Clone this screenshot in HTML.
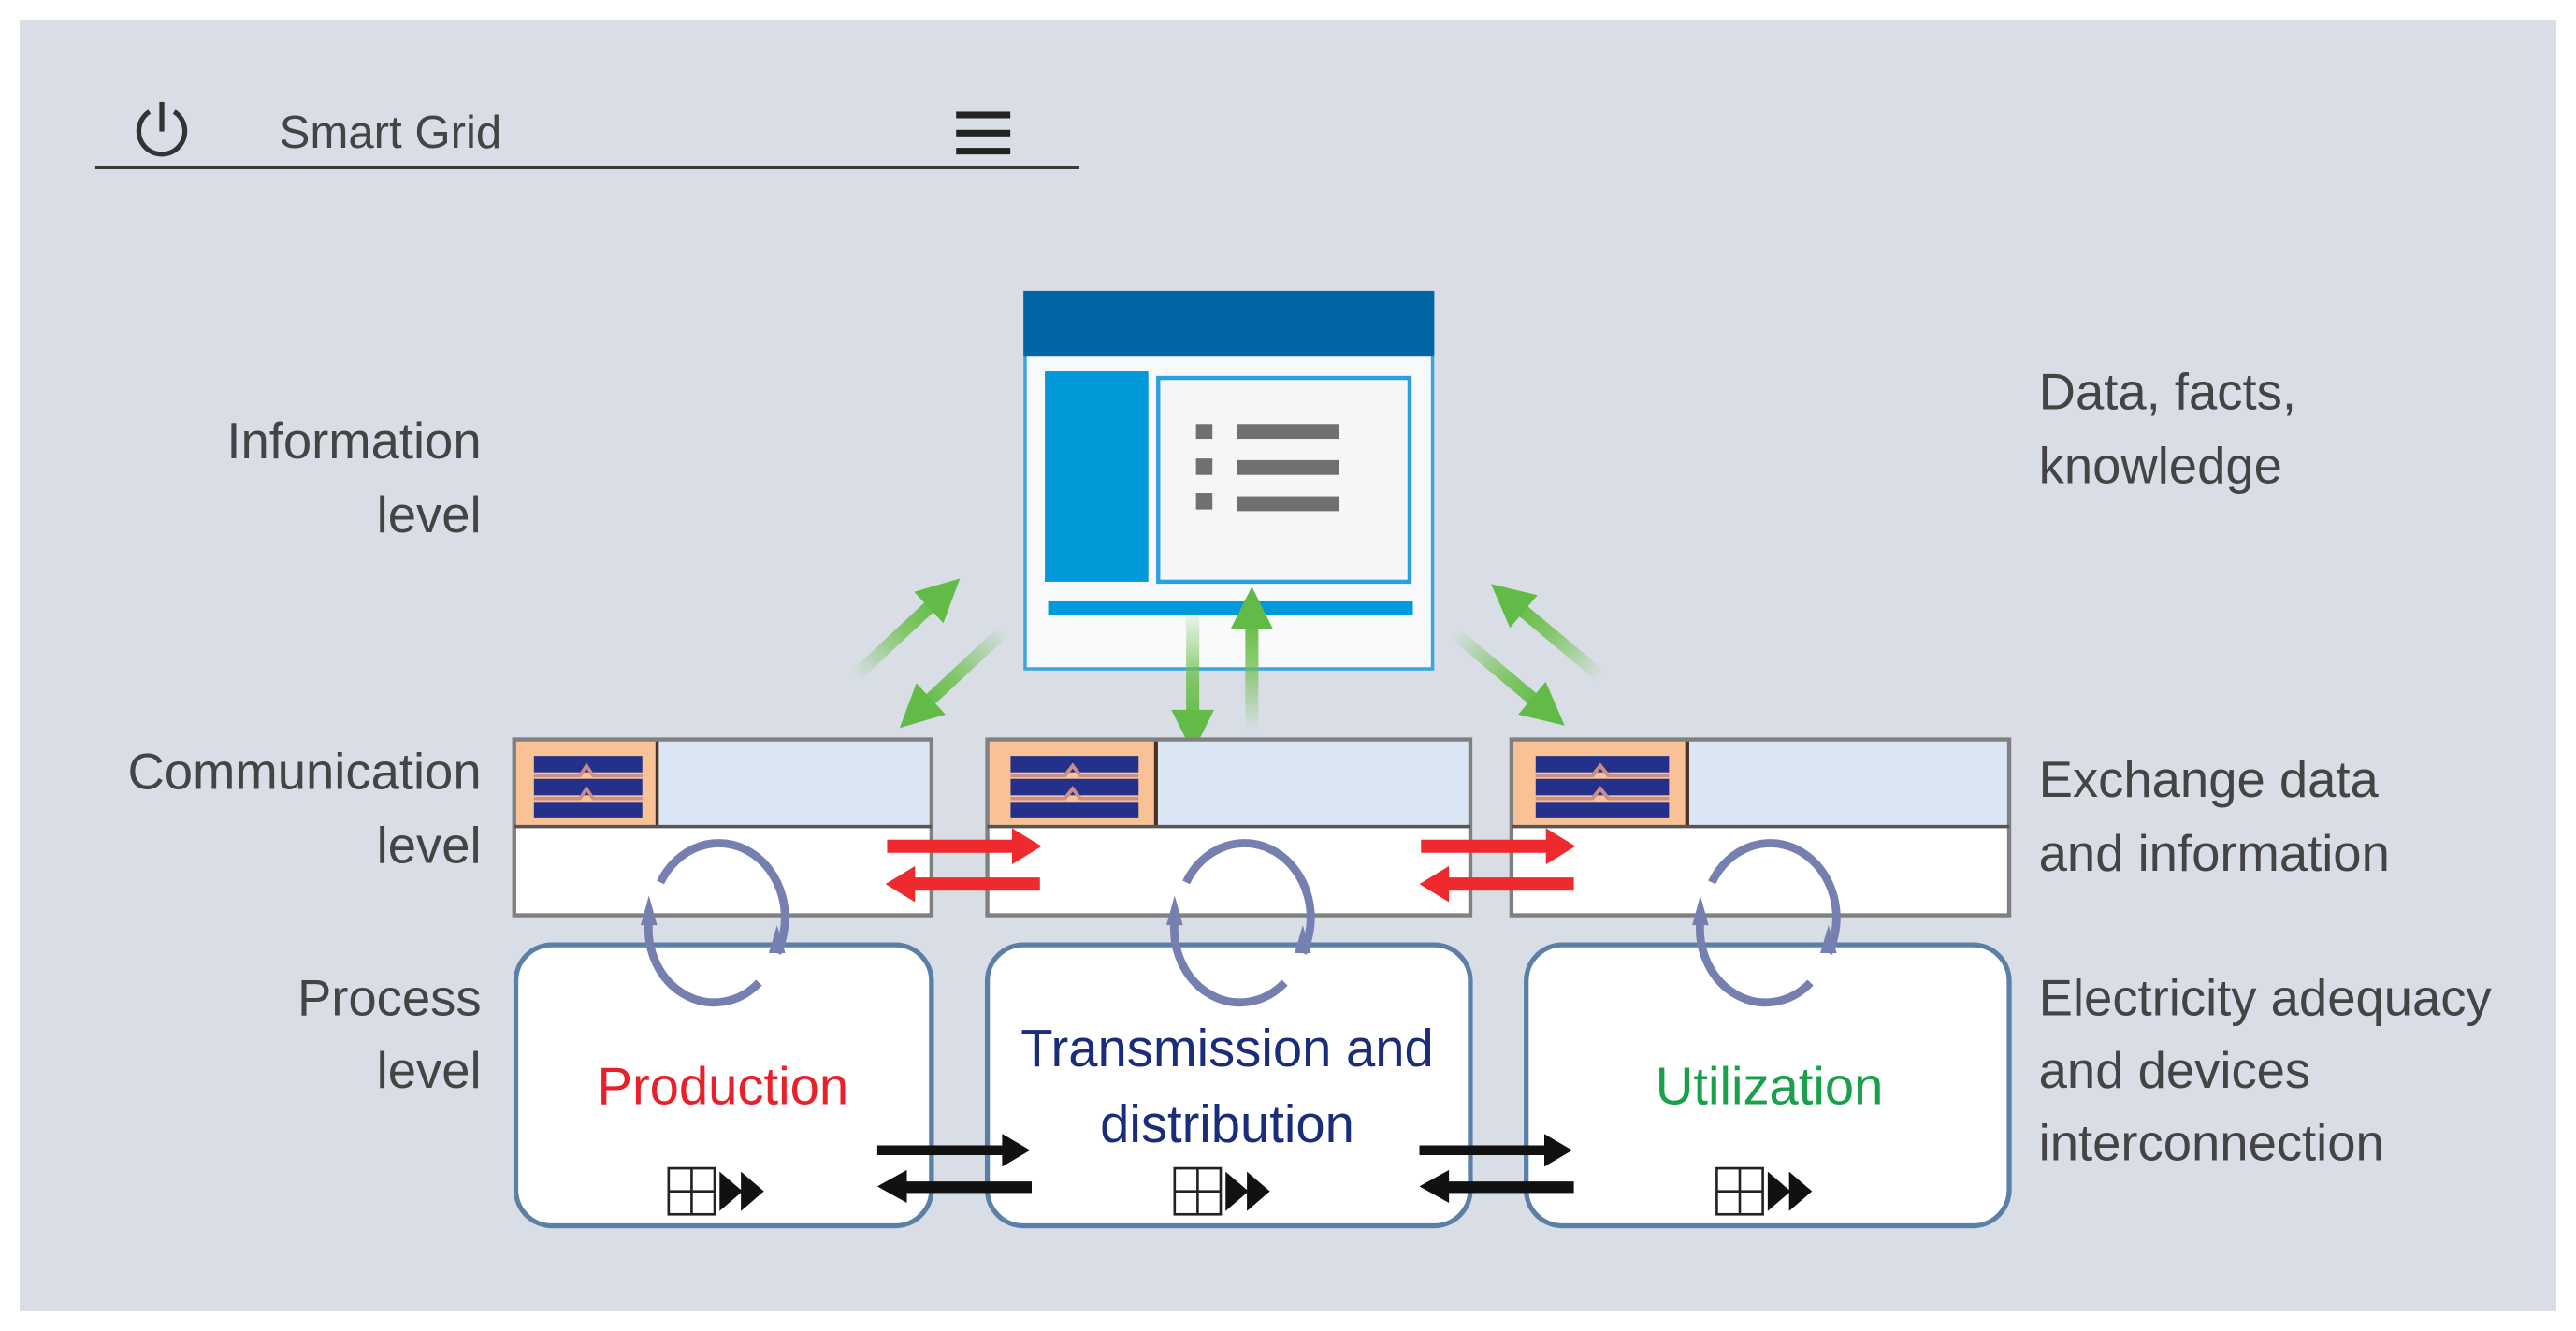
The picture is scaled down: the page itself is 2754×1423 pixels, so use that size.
<!DOCTYPE html>
<html><head><meta charset="utf-8"><style>
html,body{margin:0;padding:0;background:#fff;}
svg{display:block;}
text{font-family:"Liberation Sans",Arial,sans-serif;}
</style></head><body>
<svg width="2754" height="1423" viewBox="0 0 1568 810" preserveAspectRatio="none" xmlns="http://www.w3.org/2000/svg">
<defs>
<linearGradient id="gd" x1="0" y1="0" x2="1" y2="0"><stop offset="0" stop-color="#6cc04a" stop-opacity="0"/><stop offset="0.6" stop-color="#6cc04a" stop-opacity="0.8"/><stop offset="1" stop-color="#62bb46"/></linearGradient>
<g id="ga">
<rect x="0" y="-4" width="70" height="8" fill="url(#gd)"/>
<polygon points="62,-13 88,0 62,13" fill="#62bb46"/>
</g>
<g id="comm">
<rect x="0" y="0" width="100" height="53" fill="#dae6f3"/>
<rect x="0" y="53" width="100" height="54" fill="#fff"/>
<rect x="0" y="0" width="87" height="53" fill="#f8c296"/>
<line x1="87" y1="0" x2="87" y2="53" stroke="#4a3322" stroke-width="2"/>
<rect x="12" y="10" width="66" height="10" fill="#24318a"/>
<rect x="12" y="24" width="66" height="10" fill="#24318a"/>
<rect x="12" y="38" width="66" height="10" fill="#24318a"/>
<path d="M12,22 H40 L44,16 L48,22 H78 M12,36 H40 L44,30 L48,36 H78" stroke="#c98f86" stroke-width="2" fill="none"/>
</g>
<g id="cyc">
<path d="M-33,-28 A40,45 0 1 1 38,15" fill="none" stroke="#7580b0" stroke-width="5"/>
<path d="M27,33 A40,45 0 0 1 -40,-5" fill="none" stroke="#7580b0" stroke-width="5"/>
<polygon points="-45,-2 -40,-20 -35,-2" fill="#7580b0"/>
<polygon points="33,15 38,-2 43,15" fill="#7580b0"/>
</g>
<g id="ico">
<rect x="0" y="0" width="28" height="28" fill="#fff" stroke="#222" stroke-width="1.5"/>
<line x1="14" y1="0" x2="14" y2="28" stroke="#222" stroke-width="1.5"/>
<line x1="0" y1="14" x2="28" y2="14" stroke="#222" stroke-width="1.5"/>
<polygon points="31,2 45,14 31,26" fill="#111"/>
<polygon points="44,2 58,14 44,26" fill="#111"/>
</g>
</defs>
<rect x="0" y="0" width="1568" height="810" fill="#fff"/>
<rect x="12" y="12" width="1544" height="786" fill="#d9dee6"/>
<!-- header -->
<g fill="none" stroke="#333" stroke-width="3">
<path d="M91,68 A14,14 0 1 0 106,68"/>
<line x1="98.5" y1="62" x2="98.5" y2="80"/>
</g>
<text x="170" y="90" font-size="28" fill="#444">Smart Grid</text>
<rect x="582" y="68" width="33" height="4" fill="#222"/>
<rect x="582" y="79" width="33" height="4" fill="#222"/>
<rect x="582" y="90" width="33" height="4" fill="#222"/>
<line x1="58" y1="102" x2="657" y2="102" stroke="#3a3a3a" stroke-width="2"/>
<!-- info window -->
<rect x="624" y="178" width="248" height="229" fill="#f7f9fb" stroke="#3aa6e0" stroke-width="2"/>
<rect x="623" y="177" width="250" height="40" fill="#0066a4"/>
<rect x="636" y="226" width="63" height="128" fill="#0099d9"/>
<rect x="705" y="230" width="153" height="124" fill="#f5f6f8" stroke="#2aa0e0" stroke-width="2.5"/>
<g fill="#707070">
<rect x="728" y="258" width="10" height="9"/><rect x="753" y="258" width="62" height="9"/>
<rect x="728" y="279" width="10" height="10"/><rect x="753" y="280" width="62" height="9"/>
<rect x="728" y="300" width="10" height="10"/><rect x="753" y="302" width="62" height="9"/>
</g>
<rect x="638" y="366" width="222" height="8" fill="#0099d9"/>
<!-- green arrows -->
<use href="#ga" transform="translate(520,412) rotate(-43)"/>
<use href="#ga" transform="translate(612,383) rotate(137)"/>
<use href="#ga" transform="translate(726,370) rotate(90)"/>
<use href="#ga" transform="translate(762,445) rotate(-90)"/>
<use href="#ga" transform="translate(885,385) rotate(40)"/>
<use href="#ga" transform="translate(975,412) rotate(-140)"/>
<!-- labels -->
<g font-size="31" fill="#444" text-anchor="end">
<text x="293" y="279">Information</text><text x="293" y="324">level</text>
<text x="293" y="480">Communication</text><text x="293" y="525">level</text>
<text x="293" y="618">Process</text><text x="293" y="662">level</text>
</g>
<g font-size="31" fill="#444">
<text x="1241" y="249">Data, facts,</text><text x="1241" y="294">knowledge</text>
<text x="1241" y="485">Exchange data</text><text x="1241" y="530">and information</text>
<text x="1241" y="618">Electricity adequacy</text><text x="1241" y="662">and devices</text><text x="1241" y="706">interconnection</text>
</g>
<!-- comm boxes -->
<g>
<rect x="313" y="450" width="254" height="53" fill="#dae6f3"/><rect x="313" y="503" width="254" height="54" fill="#fff"/>
<use href="#comm" transform="translate(313,450)"/>
<rect x="313" y="450" width="254" height="107" fill="none" stroke="#808080" stroke-width="2.5"/>
<line x1="313" y1="503" x2="567" y2="503" stroke="#555" stroke-width="2"/>
</g>
<g>
<rect x="601" y="450" width="294" height="53" fill="#dae6f3"/><rect x="601" y="503" width="294" height="54" fill="#fff"/>
<use href="#comm" transform="translate(601,450) scale(1.18,1)"/>
<rect x="601" y="450" width="294" height="107" fill="none" stroke="#808080" stroke-width="2.5"/>
<line x1="601" y1="503" x2="895" y2="503" stroke="#555" stroke-width="2"/>
</g>
<g>
<rect x="920" y="450" width="303" height="53" fill="#dae6f3"/><rect x="920" y="503" width="303" height="54" fill="#fff"/>
<use href="#comm" transform="translate(920,450) scale(1.23,1)"/>
<rect x="920" y="450" width="303" height="107" fill="none" stroke="#808080" stroke-width="2.5"/>
<line x1="920" y1="503" x2="1223" y2="503" stroke="#555" stroke-width="2"/>
</g>
<!-- process boxes -->
<rect x="314" y="575" width="253" height="171" rx="22" fill="#fff" stroke="#5a80a8" stroke-width="3"/>
<rect x="601" y="575" width="294" height="171" rx="22" fill="#fff" stroke="#5a80a8" stroke-width="3"/>
<rect x="929" y="575" width="294" height="171" rx="22" fill="#fff" stroke="#5a80a8" stroke-width="3"/>
<!-- cycles -->
<use href="#cyc" transform="translate(435,565)"/>
<use href="#cyc" transform="translate(755,565)"/>
<use href="#cyc" transform="translate(1075,565)"/>
<!-- red arrows -->
<g fill="#ee2a2e">
<rect x="540" y="511" width="80" height="8"/><polygon points="616,504 634,515 616,526"/>
<rect x="553" y="534" width="80" height="8"/><polygon points="557,527 539,538 557,549"/>
<rect x="865" y="511" width="80" height="8"/><polygon points="941,504 959,515 941,526"/>
<rect x="878" y="534" width="80" height="8"/><polygon points="882,527 864,538 882,549"/>
</g>
<!-- black arrows -->
<g fill="#111">
<rect x="534" y="697" width="78" height="6"/><polygon points="610,690 627,700 610,710"/>
<rect x="550" y="719" width="78" height="7"/><polygon points="552,712 534,722 552,732"/>
<rect x="864" y="697" width="78" height="6"/><polygon points="940,690 957,700 940,710"/>
<rect x="880" y="719" width="78" height="7"/><polygon points="882,712 864,722 882,732"/>
</g>
<!-- process texts -->
<text x="440" y="672" font-size="32" fill="#e8202a" text-anchor="middle">Production</text>
<text x="747" y="649" font-size="32" fill="#1a2d7a" text-anchor="middle">Transmission and</text>
<text x="747" y="695" font-size="32" fill="#1a2d7a" text-anchor="middle">distribution</text>
<text x="1077" y="672" font-size="32" fill="#1aa04a" text-anchor="middle">Utilization</text>
<use href="#ico" transform="translate(407,711)"/>
<use href="#ico" transform="translate(715,711)"/>
<use href="#ico" transform="translate(1045,711)"/>
</svg>
</body></html>
